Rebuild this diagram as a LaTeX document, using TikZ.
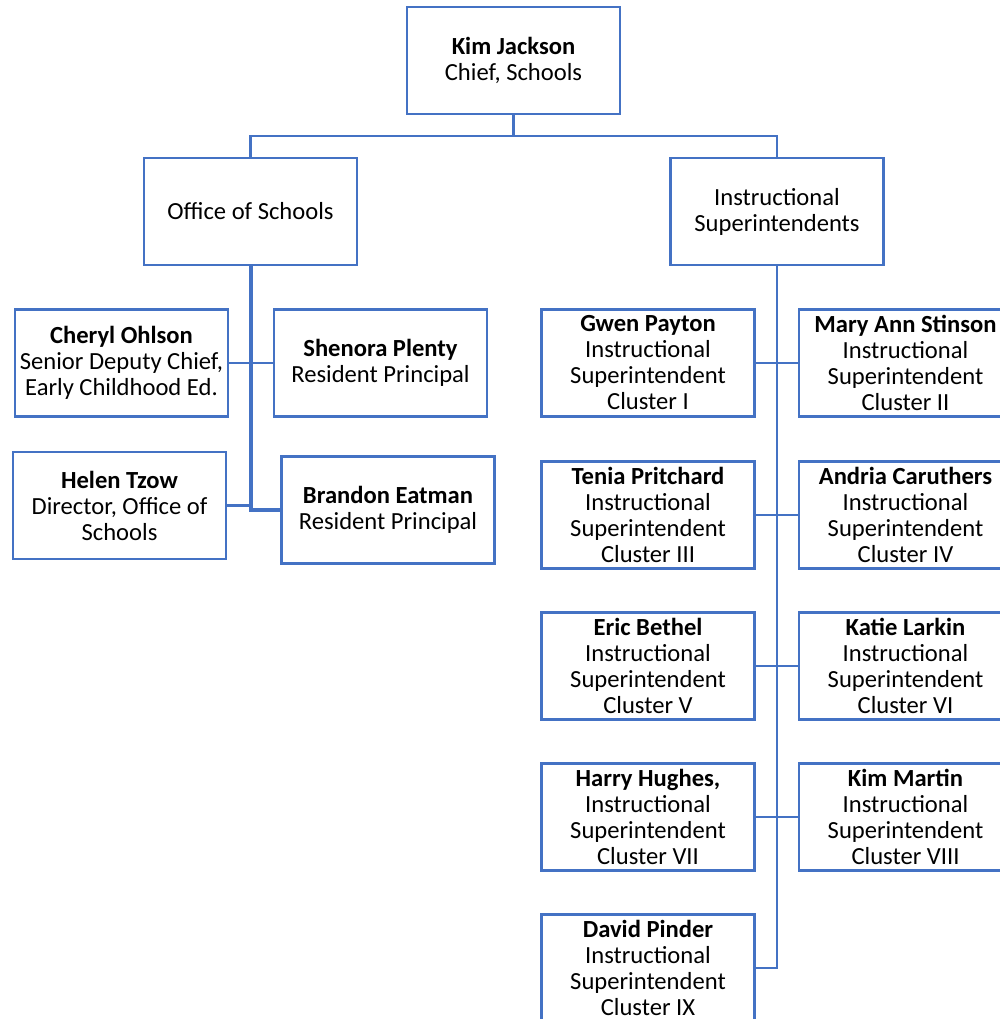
\documentclass[tikz,border=0pt]{standalone}
\usepackage{fontspec}
\setmainfont{Carlito}
\usepackage{tikz}

\definecolor{orgblue}{HTML}{4472C4}

\begin{document}
\begin{tikzpicture}[
		x=0.5pt, y=-0.5pt,
		box/.style={rectangle, draw=orgblue, line width=1.3pt, minimum width=106.5pt,
			minimum height=53.5pt, inner sep=0pt, align=center,
			font=\fontsize{12.3}{13}\selectfont},
		link/.style={draw=orgblue, line width=1.4pt}
	]
  \clip (0,0) rectangle (1000,1019);
  % top
  \node (kim_j) [box] at (513.5, 60.5) {\textbf{Kim Jackson}\\Chief, Schools};
  \node (off_s) [box] at (250.5, 211.5) {Office of Schools};
  \node (ins_s) [box] at (777, 211.5) {Instructional\\Superintendents};
  \coordinate (top_bus) at (513.5, 136);
  \draw [link] (kim_j.south) -- (top_bus) -| (off_s.north);
  \draw [link] (top_bus) -| (ins_s.north);
  % office of schools
  \node (che_o) [box] at (121.5, 363) {\textbf{Cheryl Ohlson}\\Senior Deputy Chief,\\Early Childhood Ed.};
  \node (she_p) [box] at (380.5, 363) {\textbf{Shenora Plenty}\\Resident Principal};
  \node (hel_t) [box] at (119.5, 505.5) {\textbf{Helen Tzow}\\Director, Office of\\Schools};
  \node (bra_e) [box] at (388, 510) {\textbf{Brandon Eatman}\\Resident Principal};
  \draw [link, line width=2pt] (off_s.south) |- (bra_e.west);
  \draw [link] (che_o.east) -- (she_p.west);
  \draw [link] (hel_t.east) -- (hel_t.east -| off_s.south);
  % instructional superintendents
  \node (gwe_p) [box] at (648, 363) {\textbf{Gwen Payton}\\Instructional\\Superintendent\\Cluster I};
  \node (mar_s) [box] at (905.5, 363) {\textbf{Mary Ann Stinson}\\Instructional\\Superintendent\\Cluster II};
  \node (ten_p) [box] at (648, 515) {\textbf{Tenia Pritchard}\\Instructional\\Superintendent\\Cluster III};
  \node (and_c) [box] at (905.5, 515) {\textbf{Andria Caruthers}\\Instructional\\Superintendent\\Cluster IV};
  \node (eri_b) [box] at (648, 666) {\textbf{Eric Bethel}\\Instructional\\Superintendent\\Cluster V};
  \node (kat_l) [box] at (905.5, 666) {\textbf{Katie Larkin}\\Instructional\\Superintendent\\Cluster VI};
  \node (har_h) [box] at (648, 817) {\textbf{Harry Hughes,}\\Instructional\\Superintendent\\Cluster VII};
  \node (kim_m) [box] at (905.5, 817) {\textbf{Kim Martin}\\Instructional\\Superintendent\\Cluster VIII};
  \node (dav_p) [box] at (648, 968) {\textbf{David Pinder}\\Instructional\\Superintendent\\Cluster IX};
  \draw [link] (ins_s.south) |- (dav_p.east);
  \draw [link] (gwe_p.east) -- (mar_s.west);
  \draw [link] (ten_p.east) -- (and_c.west);
  \draw [link] (eri_b.east) -- (kat_l.west);
  \draw [link] (har_h.east) -- (kim_m.west);
\end{tikzpicture}
\end{document}
